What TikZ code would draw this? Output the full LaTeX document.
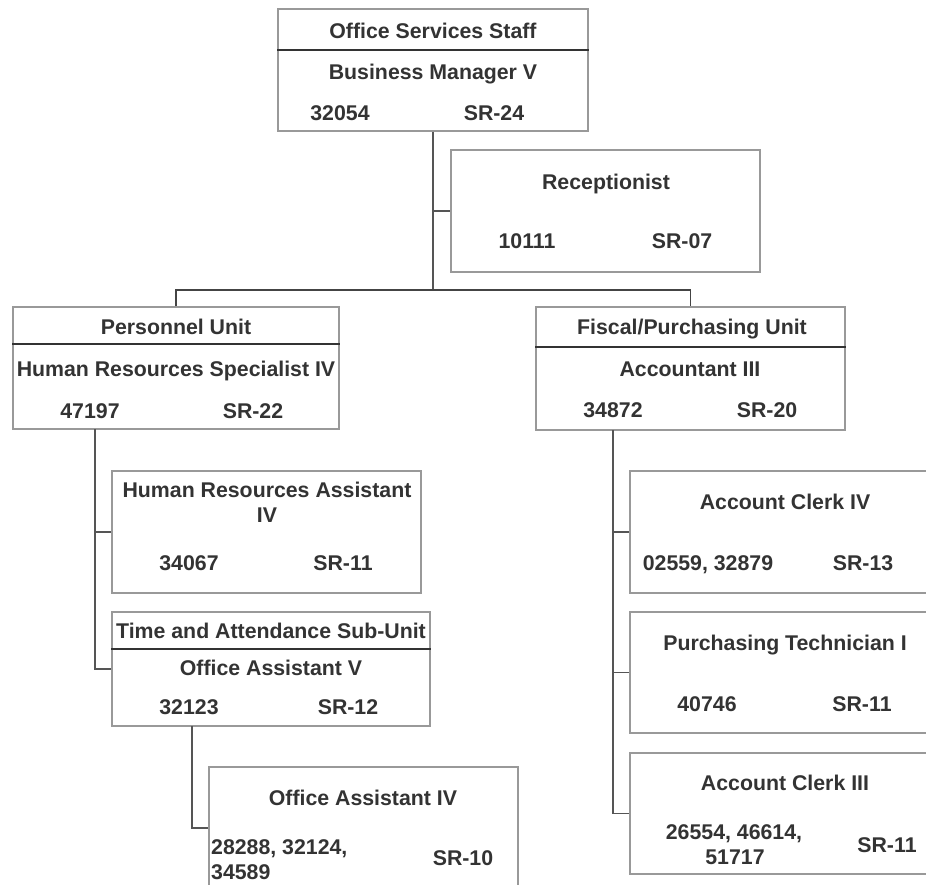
\documentclass[tikz,border=0pt]{standalone}
\usepackage{fontspec}
\setmainfont{Liberation Sans}
\usetikzlibrary{calc}
\definecolor{boxgray}{HTML}{999999}
\definecolor{txtgray}{HTML}{333333}
\definecolor{linegray}{HTML}{555555}
\definecolor{divgray}{HTML}{333333}
\tikzset{
  box/.style={draw=boxgray, line width=1.2pt, rectangle, inner sep=0pt, minimum width=309pt, minimum height=122pt},
  lbl/.style={font=\fontsize{21.3}{25}\selectfont\bfseries, text=txtgray, anchor=base, inner sep=0pt},
  lblw/.style={lbl, anchor=base west},
  conn/.style={draw=linegray, line width=1.2pt},
  busline/.style={draw=linegray!80!black, line width=1.8pt},
  divider/.style={draw=divgray, line width=1.6pt}
}
\begin{document}
\begin{tikzpicture}[x=1pt, y=-1pt]
\useasboundingbox (0,0) rectangle (926,885);
\clip (0,0) rectangle (926,885);
\fill[white] (0,0) rectangle (926,885);

% boxes
\node[box, minimum width=310pt] (top) at (433,70) {};
\node[box] (recep) at (605.5,211) {};
\node[box, minimum width=326pt] (pers) at (176,368) {};
\node[box, minimum height=123pt] (fisc) at (690.5,368.5) {};
\node[box] (hra) at (266.5,532) {};
\node[box, minimum width=318pt, minimum height=114pt] (tna) at (271,669) {};
\node[box] (oa4) at (363.5,828) {};
\node[box] (ac4) at (784.5,532) {};
\node[box, minimum height=121pt] (pt) at (784.5,672.5) {};
\node[box, minimum height=121pt] (ac3) at (784.5,813.5) {};

% dividers
\draw[divider] (top.west |- 0,50) -- (top.east |- 0,50);
\draw[divider] (pers.west |- 0,344) -- (pers.east |- 0,344);
\draw[divider] (fisc.west |- 0,347) -- (fisc.east |- 0,347);
\draw[divider] (tna.west |- 0,649) -- (tna.east |- 0,649);

% connector points
\coordinate (bus) at (433,290);
\coordinate (pv) at (95,429);
\coordinate (fv) at (613,430);
\coordinate (tv) at (192,726);

% connectors
\draw[conn] (top.south) -- (top.south |- bus);
\draw[conn] (top.south |- recep.west) -- (recep.west);
\draw[busline] (pers.north) -- (pers.north |- bus) -- (fisc.north |- bus) -- (fisc.north);
\draw[conn] (pv) |- (tna.west);
\draw[conn] (pv |- hra.west) -- (hra.west);
\draw[conn] (tv) |- (oa4.west);
\draw[conn] (fv) |- (ac3.west);
\draw[conn] (fv |- ac4.west) -- (ac4.west);
\draw[conn] (fv |- pt.west) -- (pt.west);

% texts
\node[lbl] (t1) at (433,38.5) {Office Services Staff};
\node[lbl] (t2) at (433,79.5) {Business Manager V};
\node[lbl] (t3) at (340,120.5) {32054};
\node[lbl] (t4) at (494,120.5) {SR-24};

\node[lbl] (r1) at (606,189.5) {Receptionist};
\node[lbl] (r2) at (527,248.5) {10111};
\node[lbl] (r3) at (682,248.5) {SR-07};

\node[lbl] (p1) at (176,334.5) {Personnel Unit};
\node[lbl] (p2) at (176,376.5) {Human Resources Specialist IV};
\node[lbl] (p3) at (90,418.5) {47197};
\node[lbl] (p4) at (253,418.5) {SR-22};

\node[lbl] (h1) at (267,497.5) {Human Resources Assistant};
\node[lbl] (h2) at (267,522.5) {IV};
\node[lbl] (h3) at (189,570.5) {34067};
\node[lbl] (h4) at (343,570.5) {SR-11};

\node[lbl] (n1) at (271,638.5) {Time and Attendance Sub-Unit};
\node[lbl] (n2) at (271,675.5) {Office Assistant V};
\node[lbl] (n3) at (189,714.5) {32123};
\node[lbl] (n4) at (348,714.5) {SR-12};

\node[lbl] (o1) at (363,805.5) {Office Assistant IV};
\node[lblw] (o2) at (211,854.5) {28288, 32124,};
\node[lblw] (o3) at (211,879.5) {34589};
\node[lbl] (o4) at (463,865.5) {SR-10};

\node[lbl] (f1) at (692,334.5) {Fiscal/Purchasing Unit};
\node[lbl] (f2) at (690,376.5) {Accountant III};
\node[lbl] (f3) at (613,417.5) {34872};
\node[lbl] (f4) at (767,417.5) {SR-20};

\node[lbl] (a1) at (785,509.5) {Account Clerk IV};
\node[lbl] (a2) at (708,570.5) {02559, 32879};
\node[lbl] (a3) at (863,570.5) {SR-13};

\node[lbl] (q1) at (785,650.5) {Purchasing Technician I};
\node[lbl] (q2) at (707,711.5) {40746};
\node[lbl] (q3) at (862,711.5) {SR-11};

\node[lbl] (c1) at (785,790.5) {Account Clerk III};
\node[lbl] (c2) at (734,839.5) {26554, 46614,};
\node[lbl] (c3) at (735,864.5) {51717};
\node[lbl] (c4) at (887,852.5) {SR-11};
\end{tikzpicture}
\end{document}
